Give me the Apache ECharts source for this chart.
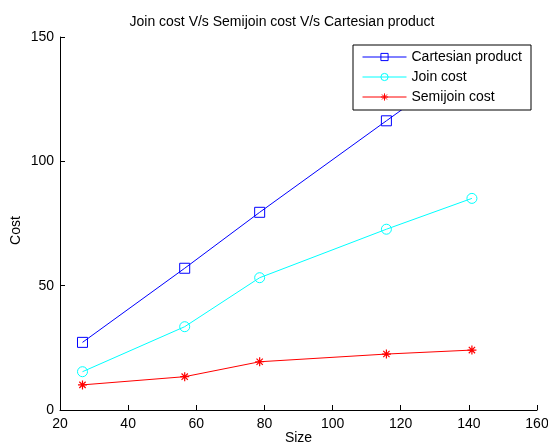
<!DOCTYPE html>
<html>
<head>
<meta charset="utf-8">
<script src="https://cdn.jsdelivr.net/npm/echarts@6/dist/echarts.min.js"></script>
<style>html,body{margin:0;padding:0;background:#fff}#c{width:548px;height:446px}</style>
</head>
<body>
<div id="c"></div>
<script>
const sizes = [26.6, 56.6, 78.6, 115.8, 140.9];
const cartesian = [27.2, 57.0, 79.5, 116.3, 141.0];
const joinCost = [15.4, 33.5, 53.2, 72.7, 85.1];
const semijoinCost = [10.1, 13.4, 19.4, 22.5, 24.1];
const seriesNames = ['Cartesian product', 'Join cost', 'Semijoin cost'];
const titleText = 'Join cost V/s Semijoin cost V/s Cartesian product';
const xTicks = { min: 20, max: 160, interval: 20 };
const yTicks = { min: 0, max: 150, interval: 50 };

const FONT = 'Liberation Sans, Arial, sans-serif';
const FS = 14;
const pairs = (ys) => sizes.map((x, i) => [x, ys[i]]);
const star = 'path://M0 5 L10 5 M5 0 L5 10 M1.5 1.5 L8.5 8.5 M8.5 1.5 L1.5 8.5';

const chart = echarts.init(document.getElementById('c'), null, { renderer: 'canvas' });
chart.setOption({
  animation: false,
  backgroundColor: '#ffffff',
  title: {
    text: titleText,
    left: 282, top: 15, textAlign: 'center', padding: 0,
    textStyle: { fontFamily: FONT, fontSize: FS, fontWeight: 'normal', color: '#000' }
  },
  grid: { left: 60, right: 11, top: 37, bottom: 36, containLabel: false, outerBoundsMode: 'none' },
  legend: {
    orient: 'vertical',
    left: 353, top: 45,
    padding: [5, 9, 6, 9],
    itemGap: 6,
    itemWidth: 44, itemHeight: 9,
    backgroundColor: '#ffffff',
    borderColor: '#000000', borderWidth: 1,
    lineStyle: { width: 1 },
    itemStyle: { borderWidth: 1 },
    textStyle: { fontFamily: FONT, fontSize: FS, color: '#000' },
    data: seriesNames
  },
  xAxis: {
    type: 'value', min: xTicks.min, max: xTicks.max, interval: xTicks.interval,
    name: 'Size', nameLocation: 'middle', nameGap: 21, nameMoveOverlap: false,
    nameTextStyle: { fontFamily: FONT, fontSize: FS, color: '#000' },
    axisLine: { lineStyle: { color: '#000', width: 1 } },
    axisTick: { inside: true, length: 5, lineStyle: { color: '#000' } },
    axisLabel: { fontFamily: FONT, fontSize: FS, color: '#000', margin: 7 },
    splitLine: { show: false }
  },
  yAxis: {
    type: 'value', min: yTicks.min, max: yTicks.max, interval: yTicks.interval,
    name: 'Cost', nameLocation: 'middle', nameGap: 37, nameMoveOverlap: false,
    nameTextStyle: { fontFamily: FONT, fontSize: FS, color: '#000', padding: [0, 14, 0, 0] },
    axisLine: { show: true, lineStyle: { color: '#000', width: 1 } },
    axisTick: { show: true, inside: true, length: 5, lineStyle: { color: '#000' } },
    axisLabel: { fontFamily: FONT, fontSize: FS, color: '#000', margin: 6 },
    splitLine: { show: false }
  },
  series: [
    {
      name: seriesNames[0], type: 'line', data: pairs(cartesian),
      symbol: 'rect', symbolSize: 10,
      lineStyle: { color: '#0000ff', width: 1 },
      itemStyle: { color: 'rgba(0,0,0,0)', borderColor: '#0000ff', borderWidth: 1 }
    },
    {
      name: seriesNames[1], type: 'line', data: pairs(joinCost),
      symbol: 'circle', symbolSize: 10,
      lineStyle: { color: '#00ffff', width: 1 },
      itemStyle: { color: 'rgba(0,0,0,0)', borderColor: '#00ffff', borderWidth: 1 }
    },
    {
      name: seriesNames[2], type: 'line', data: pairs(semijoinCost),
      symbol: star, symbolSize: 9,
      lineStyle: { color: '#ff0000', width: 1 },
      itemStyle: { color: '#ff0000', borderColor: '#ff0000', borderWidth: 1.2 }
    }
  ]
});
</script>
</body>
</html>
